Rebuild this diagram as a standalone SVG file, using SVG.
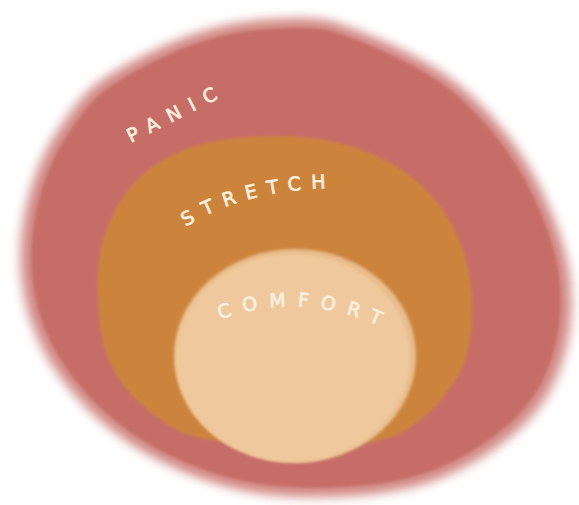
<svg xmlns="http://www.w3.org/2000/svg" width="579" height="505" viewBox="0 0 579 505">
  <defs>
    <filter id="soft" x="-5%" y="-5%" width="110%" height="110%">
      <feGaussianBlur stdDeviation="1.6"/>
    </filter>
    <filter id="softer" x="-10%" y="-10%" width="120%" height="120%">
      <feGaussianBlur stdDeviation="4"/>
    </filter>
    <path id="outerShape" d="M 153.5 48 Q 207 22 260.5 17.5 Q 314 13 334 19.5 Q 354 26 380 37 Q 406 48 434 64.5 Q 462 81 489.5 110.5 Q 517 140 535.5 173.5 Q 554 207 565 242 Q 576 277 574 314 Q 572 351 557.5 382.5 Q 543 414 511.5 439.5 Q 480 465 443 480 Q 406 495 350.5 498.5 Q 295 502 251 494.5 Q 207 487 162.5 465 Q 118 443 86.5 411.5 Q 55 380 38.5 347 Q 22 314 18.5 277 Q 15 240 24 203 Q 33 166 49.5 138.5 Q 66 111 83 92.5 Q 100 74 153.5 48 Z"/>
    <path id="stretchArc" d="M 186 227 Q 242 190 334 188"/>
    <path id="comfortArc" d="M 220 320 Q 297 290 382 327"/>
  </defs>
  <style>
    .label { font-family: "DejaVu Sans", "Liberation Sans", sans-serif; font-size: 19px; fill: #faf0de; stroke: #faf0de; stroke-width: 0.7; stroke-linejoin: round; }
  </style>
  <rect width="579" height="505" fill="#ffffff"/>

  <g id="panic">
    <use href="#outerShape" fill="#d9a09c" opacity="0.7" filter="url(#softer)"/>
    <use href="#outerShape" fill="#d0837e" opacity="0.9" transform="translate(7.4 6.5) scale(0.975)" filter="url(#softer)"/>
    <use href="#outerShape" fill="#c66d68" transform="translate(14.75 13) scale(0.95)" filter="url(#soft)"/>
    <text class="label" transform="translate(131 143) rotate(-27)" letter-spacing="10.5">PANIC</text>
  </g>

  <g id="stretch">
    <path fill="#cc843e" filter="url(#soft)" d="M 110 221 Q 122 192 144 173.5 Q 166 155 194 146.5 Q 222 138 258.5 136.5 Q 295 135 323 139.5 Q 351 144 378.5 157 Q 406 170 424.5 188.5 Q 443 207 454 229 Q 465 251 469.5 277 Q 474 303 471.5 328.5 Q 469 354 459.5 372.5 Q 450 391 433.5 408 Q 417 425 398.5 434 Q 380 443 335 446.5 Q 290 450 243 444.5 Q 196 439 181 432 Q 166 425 147.5 410 Q 129 395 116.5 375 Q 104 355 100.5 329 Q 97 303 97.5 276.5 Q 98 250 110 221 Z"/>
    <text class="label" letter-spacing="10"><textPath href="#stretchArc">STRETCH</textPath></text>
  </g>

  <g id="comfort">
    <ellipse cx="295" cy="356" rx="121" ry="107" fill="#e9bd8c" filter="url(#soft)"/>
    <ellipse cx="293" cy="358" rx="117" ry="104" fill="#efc99d" filter="url(#soft)"/>
    <text class="label" letter-spacing="11.5"><textPath href="#comfortArc">COMFORT</textPath></text>
  </g>
</svg>
